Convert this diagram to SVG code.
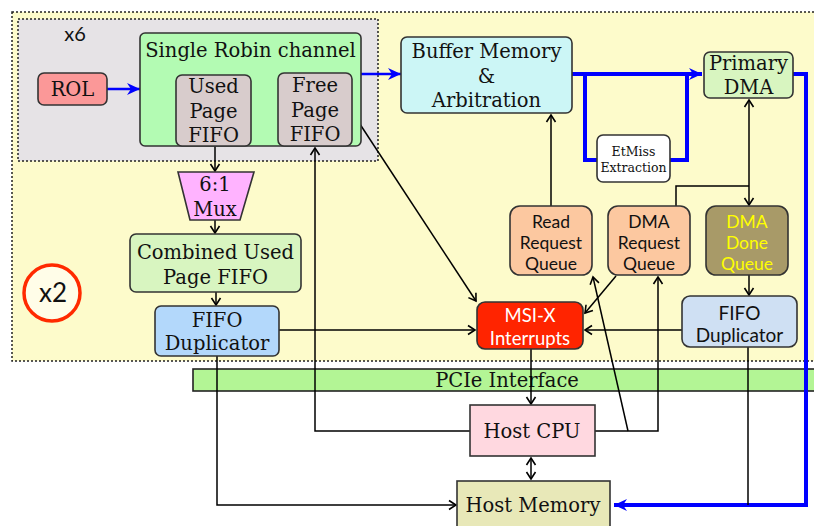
<svg xmlns="http://www.w3.org/2000/svg" width="814" height="526" viewBox="0 0 814 526">
<defs>
<marker id="ak" markerUnits="userSpaceOnUse" markerWidth="12" markerHeight="12" refX="9" refY="6" orient="auto">
<path d="M2,1.5 L9,6 L2,10.5" fill="none" stroke="#000" stroke-width="1.6"/>
</marker>
<marker id="akr" markerUnits="userSpaceOnUse" markerWidth="12" markerHeight="12" refX="3" refY="6" orient="auto">
<path d="M10,1.5 L3,6 L10,10.5" fill="none" stroke="#000" stroke-width="1.6"/>
</marker>
<marker id="ab" markerUnits="userSpaceOnUse" markerWidth="16" markerHeight="16" refX="14" refY="8" orient="auto">
<path d="M1,2 L14,8 L1,14 L5,8 Z" fill="#0000ff"/>
</marker>
</defs>
<style>
.n{stroke:#333;stroke-width:1.6}
.serif{font-family:"DejaVu Serif","Liberation Serif",serif;fill:#111;text-anchor:middle}
.sans{font-family:Lato,"Open Sans","Liberation Sans",sans-serif;fill:#111;text-anchor:middle}
.k{fill:none;stroke:#000;stroke-width:1.5}
.b{fill:none;stroke:#0000ff;stroke-width:4}
</style>
<rect width="814" height="526" fill="#fff"/>
<g id="fpga">
<rect x="12" y="12" width="810" height="349" fill="#fdfbcb" stroke="#222" stroke-width="1.5" stroke-dasharray="2,2"/>
</g>
<g id="channel-group">
<rect x="18" y="19" width="360" height="142" fill="#e6e3e6" stroke="#222" stroke-width="1.5" stroke-dasharray="2,2"/>
<text x="75" y="41" class="sans" font-size="20">x6</text>
</g>
<g id="x2">
<circle cx="52" cy="293" r="28" fill="#fffde8" stroke="#ff2a00" stroke-width="3.5"/>
<text x="53" y="302" class="sans" font-size="26">x2</text>
</g>
<g id="pcie">
<rect x="193" y="369" width="625" height="22" fill="#b3f595" stroke="#222" stroke-width="1.6"/>
<text x="507" y="387" class="serif" font-size="19.5">PCIe Interface</text>
</g>
<g id="connectors">
<line x1="107" y1="89" x2="140" y2="89" stroke="#0000ff" stroke-width="2.5" marker-end="url(#ab)"/>
<line x1="361" y1="74" x2="401" y2="74" stroke="#0000ff" stroke-width="2.5" marker-end="url(#ab)"/>
<path class="b" d="M572,74 H702" marker-end="url(#ab)"/>
<path class="b" d="M585,74 V160 H597"/>
<path class="b" d="M670,160 H687 V74"/>
<path class="b" d="M793,74 H806 V505 H614" marker-end="url(#ab)"/>
<path class="k" d="M749,100 V205" marker-start="url(#akr)" marker-end="url(#ak)"/>
<path class="k" d="M676,206 V186 H749"/>
<path class="k" d="M551,206 V115" marker-end="url(#ak)"/>
<path class="k" d="M749,275 V295" marker-end="url(#ak)"/>
<path class="k" d="M682,330 H585" marker-end="url(#ak)"/>
<path class="k" d="M616,276 L585,313" marker-end="url(#ak)"/>
<path class="k" d="M352,112 L476,301" marker-end="url(#ak)"/>
<path class="k" d="M279,330 H475" marker-end="url(#ak)"/>
<path class="k" d="M531,349 V404" marker-end="url(#ak)"/>
<path class="k" d="M215,146 V171" marker-end="url(#ak)"/>
<path class="k" d="M215,220 V233" marker-end="url(#ak)"/>
<path class="k" d="M216,292 V305" marker-end="url(#ak)"/>
<path class="k" d="M217,356 V505 H456" marker-end="url(#ak)"/>
<path class="k" d="M470,431 H315 V148" marker-end="url(#ak)"/>
<path class="k" d="M595,431 H658 V277" marker-end="url(#ak)"/>
<path class="k" d="M628,431 L593,277" marker-end="url(#ak)"/>
<path class="k" d="M531,458 V479" marker-start="url(#akr)" marker-end="url(#ak)"/>
<path class="k" d="M748,347 V505"/>
</g>
<g id="rol">
<rect x="38" y="73" width="69" height="32" rx="6" fill="#fb9898" class="n"/>
<text x="72.5" y="96" class="serif" font-size="19.5">ROL</text>
</g>
<g id="robin">
<rect x="140" y="33" width="221" height="113" rx="5" fill="#b3fbb3" class="n"/>
<text x="250.5" y="57" class="serif" font-size="19.5">Single Robin channel</text>
</g>
<g id="used-fifo">
<rect x="176" y="75" width="75" height="71" rx="6" fill="#d8cccc" class="n"/>
<text class="serif" font-size="19.5"><tspan x="213.5" y="93">Used</tspan><tspan x="213.5" y="118">Page</tspan><tspan x="213.5" y="142">FIFO</tspan></text>
</g>
<g id="free-fifo">
<rect x="278" y="73" width="74" height="73" rx="6" fill="#d8cccc" class="n"/>
<text class="serif" font-size="19.5"><tspan x="315" y="92">Free</tspan><tspan x="315" y="117">Page</tspan><tspan x="315" y="141">FIFO</tspan></text>
</g>
<g id="buffer">
<rect x="401" y="37" width="171" height="76" rx="6" fill="#ccf6f6" class="n"/>
<text class="serif" font-size="19.5"><tspan x="486.5" y="58">Buffer Memory</tspan><tspan x="486.5" y="83">&amp;</tspan><tspan x="486.5" y="107">Arbitration</tspan></text>
</g>
<g id="etmiss">
<rect x="597" y="135" width="73" height="47" rx="6" fill="#fff" class="n"/>
<text class="serif" font-size="12.5"><tspan x="633.5" y="156">EtMiss</tspan><tspan x="633.5" y="172">Extraction</tspan></text>
</g>
<g id="primary-dma">
<rect x="704" y="52" width="89" height="46" rx="6" fill="#d8f5c0" class="n"/>
<text class="serif" font-size="19.5"><tspan x="748.5" y="70">Primary</tspan><tspan x="748.5" y="94">DMA</tspan></text>
</g>
<g id="read-queue">
<rect x="510" y="206" width="82" height="69" rx="10" fill="#fcc8a0" class="n"/>
<text class="sans" font-size="17.5"><tspan x="551" y="228">Read</tspan><tspan x="551" y="249">Request</tspan><tspan x="551" y="270">Queue</tspan></text>
</g>
<g id="dma-req-queue">
<rect x="608" y="206" width="82" height="69" rx="10" fill="#fcc8a0" class="n"/>
<text class="sans" font-size="17.5"><tspan x="649" y="228">DMA</tspan><tspan x="649" y="249">Request</tspan><tspan x="649" y="270">Queue</tspan></text>
</g>
<g id="dma-done-queue">
<rect x="706" y="206" width="82" height="69" rx="10" fill="#a89a68" class="n"/>
<text class="sans" font-size="17.5" style="fill:#ffff00"><tspan x="747" y="228">DMA</tspan><tspan x="747" y="249">Done</tspan><tspan x="747" y="270">Queue</tspan></text>
</g>
<g id="fifo-dup-right">
<rect x="682" y="296" width="115" height="51" rx="8" fill="#cfe0f3" class="n"/>
<text class="sans" font-size="19"><tspan x="739.5" y="320">FIFO</tspan><tspan x="739.5" y="342">Duplicator</tspan></text>
</g>
<g id="msix">
<rect x="477" y="302" width="106" height="47" rx="8" fill="#ff2400" class="n"/>
<text class="sans" font-size="18.5" style="fill:#fff"><tspan x="530" y="322">MSI-X</tspan><tspan x="530" y="345">Interrupts</tspan></text>
</g>
<g id="mux">
<path d="M178,172 H254 L240,220 H190 Z" fill="#ffb3ff" class="n"/>
<text class="serif" font-size="19.5"><tspan x="215" y="191">6:1</tspan><tspan x="215" y="216">Mux</tspan></text>
</g>
<g id="combined">
<rect x="130" y="234" width="171" height="58" rx="6" fill="#d8f5c0" class="n"/>
<text class="serif" font-size="19.5"><tspan x="215.5" y="259">Combined Used</tspan><tspan x="215.5" y="284">Page FIFO</tspan></text>
</g>
<g id="fifo-dup-left">
<rect x="155" y="306" width="124" height="50" rx="6" fill="#b3d8fb" class="n"/>
<text class="serif" font-size="19.5"><tspan x="217" y="327">FIFO</tspan><tspan x="217" y="350">Duplicator</tspan></text>
</g>
<g id="host-cpu">
<rect x="470" y="405" width="125" height="51" fill="#ffd8e0" class="n"/>
<text x="532" y="438" class="serif" font-size="19.5">Host CPU</text>
</g>
<g id="host-memory">
<rect x="457" y="481" width="153" height="50" fill="#e8e8b8" class="n"/>
<text x="533" y="512" class="serif" font-size="19.5">Host Memory</text>
</g>
</svg>
